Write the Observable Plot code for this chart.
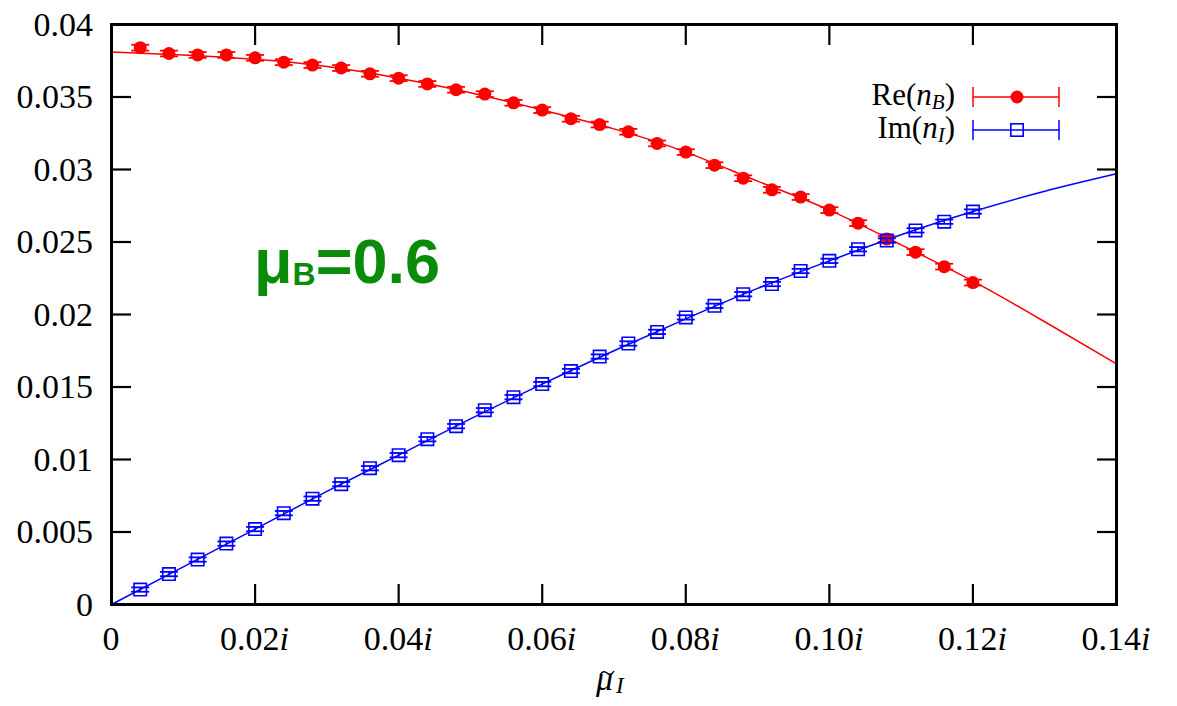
<!DOCTYPE html>
<html>
<head>
<meta charset="utf-8">
<script src="https://cdn.jsdelivr.net/npm/d3@7"></script>
<script src="https://cdn.jsdelivr.net/npm/@observablehq/plot@0.6"></script>
<style>
  html, body { margin: 0; padding: 0; background: white; overflow: hidden; }
</style>
</head>
<body>
<div id="chart"></div>
<script>
// ---- data ----
const muI = [0.004,0.008,0.012,0.016,0.020,0.024,0.028,0.032,0.036,0.040,0.044,0.048,0.052,0.056,0.060,
             0.064,0.068,0.072,0.076,0.080,0.084,0.088,0.092,0.096,0.100,0.104,0.108,0.112,0.116,0.120];
const reNB = [0.0384,0.0380,0.0379,0.0379,0.0377,0.0374,0.0372,0.0370,0.0366,0.0363,0.0359,0.0355,0.0352,0.0346,0.0341,
              0.0335,0.0331,0.0326,0.0318,0.0312,0.0303,0.0294,0.0286,0.0281,0.0272,0.0263,0.0252,0.0243,0.0233,0.0222];
const reErr = [0.0002,0.0002,0.0002,0.0002,0.0002,0.0002,0.0002,0.0002,0.0002,0.0002,0.0002,0.0002,0.0002,0.0002,0.0002,
               0.0002,0.0002,0.0002,0.0002,0.0002,0.0002,0.0002,0.0002,0.0002,0.0002,0.0002,0.0002,0.0002,0.0002,0.0002];
const imNI = [0.00103,0.0021,0.0031,0.0042,0.0052,0.0063,0.0073,0.0083,0.0094,0.0103,0.0114,0.0123,0.0134,0.0143,0.0152,
              0.0161,0.0171,0.0180,0.0188,0.0198,0.0206,0.0214,0.0221,0.0230,0.0237,0.0245,0.0251,0.0258,0.0264,0.0271];
const imErr = [0.00015,0.00015,0.00015,0.00015,0.00015,0.00015,0.00015,0.00015,0.00015,0.00015,0.00015,0.00015,0.00015,0.00015,0.00015,
               0.00015,0.00015,0.00015,0.00015,0.00015,0.00015,0.00015,0.00015,0.00015,0.00015,0.00015,0.00015,0.00015,0.00015,0.00015];

// fit curves
const fitX  = [0,0.01,0.02,0.03,0.04,0.05,0.06,0.07,0.08,0.09,0.10,0.11,0.12,0.13,0.14];
const fitRe = [0.0381,0.0379,0.0376,0.0371,0.0363,0.0353,0.0341,0.0328,0.0312,0.0292,0.0272,0.0248,0.0223,0.0195,0.0166];
const fitIm = [0,0.0026,0.0052,0.0078,0.0103,0.0128,0.0152,0.0175,0.0197,0.0218,0.0237,0.0255,0.0271,0.0285,0.0297];

// ticks
const xTicks = [0,0.02,0.04,0.06,0.08,0.10,0.12,0.14];
const xTickLabels = ["0","0.02i","0.04i","0.06i","0.08i","0.10i","0.12i","0.14i"];
const yTicks = [0,0.005,0.01,0.015,0.02,0.025,0.03,0.035,0.04];
const yTickLabels = ["0","0.005","0.01","0.015","0.02","0.025","0.03","0.035","0.04"];

const RED = "#ff0000", BLUE = "#0000ff";
const SERIF = "Liberation Serif";
const FS = 34;

const reData = muI.map((x, i) => ({x, y: reNB[i], e: reErr[i]}));
const imData = muI.map((x, i) => ({x, y: imNI[i], e: imErr[i]}));
const reFit = fitX.map((x, i) => ({x, y: fitRe[i]}));
const imFit = fitX.map((x, i) => ({x, y: fitIm[i]}));

const capSymbol = {
  draw(ctx, size) {
    const w = Math.sqrt(size / Math.PI);
    ctx.moveTo(-w, 0); ctx.lineTo(w, 0);
  }
};

function errMarks(data, color) {
  return [
    Plot.ruleX(data, {x: "x", y1: d => d.y - d.e, y2: d => d.y + d.e, stroke: color, strokeWidth: 1.5}),
    Plot.dot(data, {x: "x", y: d => d.y + d.e, symbol: capSymbol, r: 9, stroke: color, strokeWidth: 1.8, fill: "none"}),
    Plot.dot(data, {x: "x", y: d => d.y - d.e, symbol: capSymbol, r: 9, stroke: color, strokeWidth: 1.8, fill: "none"})
  ];
}

const noLabel = () => "";

const chart = Plot.plot({
  width: 1177,
  height: 706,
  marginLeft: 111,
  marginRight: 61,
  marginTop: 24,
  marginBottom: 102,
  style: {background: "white", color: "black"},
  x: {domain: [0, 0.14]},
  y: {domain: [0, 0.04]},
  marks: [
    Plot.line(reFit, {x: "x", y: "y", stroke: RED, strokeWidth: 1.5, curve: "natural"}),
    Plot.line(imFit, {x: "x", y: "y", stroke: BLUE, strokeWidth: 1.5, curve: "natural"}),
    ...errMarks(reData, RED),
    Plot.dot(reData, {x: "x", y: "y", r: 6.5, fill: RED, stroke: "none"}),
    ...errMarks(imData, BLUE),
    Plot.dot(imData, {x: "x", y: "y", symbol: "square", r: 7, stroke: BLUE, strokeWidth: 1.6, fill: "none"}),
    Plot.axisX({ticks: xTicks, tickSize: -20, strokeWidth: 2.2, label: null, tickFormat: noLabel}),
    Plot.axisX({anchor: "top", ticks: xTicks.slice(1, -1), tickSize: -20, strokeWidth: 2.2, label: null, tickFormat: noLabel}),
    Plot.axisY({ticks: yTicks, tickSize: -20, strokeWidth: 2.2, label: null, tickFormat: noLabel}),
    Plot.axisY({anchor: "right", ticks: yTicks.slice(1, -1), tickSize: -20, strokeWidth: 2.2, label: null, tickFormat: noLabel}),
    Plot.frame({stroke: "black", strokeWidth: 3})
  ]
});

document.getElementById("chart").appendChild(chart);

const svg = d3.select(chart);
const sx = chart.scale("x"), sy = chart.scale("y");
const x0 = sx.apply(0), y0 = sy.apply(0);

// tick labels positioned with Plot's scales
const tl = svg.append("g").attr("font-family", SERIF).attr("font-size", FS).attr("fill", "black");
xTicks.forEach((v, i) => {
  const lab = xTickLabels[i];
  const t = tl.append("text").attr("x", sx.apply(v)).attr("y", y0 + 46).attr("text-anchor", "middle");
  if (lab.endsWith("i")) {
    t.append("tspan").text(lab.slice(0, -1));
    t.append("tspan").attr("font-style", "italic").text("i");
  } else t.text(lab);
});
yTicks.forEach((v, i) => {
  tl.append("text").attr("x", x0 - 18).attr("y", sy.apply(v) + 11.5).attr("text-anchor", "end").text(yTickLabels[i]);
});

// x-axis label  μ̃_I
const xl = svg.append("text").attr("x", 596).attr("y", 690).attr("text-anchor", "start")
  .attr("font-family", SERIF).attr("font-size", FS).attr("fill", "black");
xl.append("tspan").attr("font-style", "italic").text("\u03BC");
xl.append("tspan").attr("font-style", "italic").attr("font-size", 23).attr("dy", 3).attr("dx", 3).text("I");
svg.append("path").attr("d", "M600,675 C602,671 605,671 607,673 C609,675 612,675 614,671")
  .attr("fill", "none").attr("stroke", "black").attr("stroke-width", 1.4);

// legend
const lg = svg.append("g").attr("font-family", SERIF).attr("font-size", 31).attr("fill", "black");
function legendRow(y, base, sub, color, filled) {
  const t = lg.append("text").attr("x", 955).attr("y", y + 8).attr("text-anchor", "end");
  t.append("tspan").text(base + "(");
  t.append("tspan").attr("font-style", "italic").text("n");
  t.append("tspan").attr("font-style", "italic").attr("font-size", 21).attr("dy", 4).text(sub);
  t.append("tspan").attr("dy", -4).text(")");
  lg.append("line").attr("x1", 973).attr("x2", 1059).attr("y1", y).attr("y2", y).attr("stroke", color).attr("stroke-width", 1.5);
  lg.append("line").attr("x1", 973).attr("x2", 973).attr("y1", y - 10).attr("y2", y + 10).attr("stroke", color).attr("stroke-width", 1.5);
  lg.append("line").attr("x1", 1059).attr("x2", 1059).attr("y1", y - 10).attr("y2", y + 10).attr("stroke", color).attr("stroke-width", 1.5);
  if (filled) lg.append("circle").attr("cx", 1017).attr("cy", y).attr("r", 6.5).attr("fill", color);
  else lg.append("rect").attr("x", 1017 - 6.2).attr("y", y - 6.2).attr("width", 12.4).attr("height", 12.4)
          .attr("fill", "none").attr("stroke", color).attr("stroke-width", 1.6);
}
legendRow(97, "Re", "B", RED, true);
legendRow(130, "Im", "I", BLUE, false);

// annotation μB=0.6
const an = svg.append("text").attr("x", 254).attr("y", 283).attr("text-anchor", "start")
  .attr("font-family", "Liberation Sans").attr("font-weight", "bold")
  .attr("font-size", 63).attr("fill", "#0a8c0a");
an.append("tspan").text("\u03BC");
an.append("tspan").attr("font-size", 32).attr("dy", 2).text("B");
an.append("tspan").attr("dy", -2).text("=0.6");
</script>
</body>
</html>
